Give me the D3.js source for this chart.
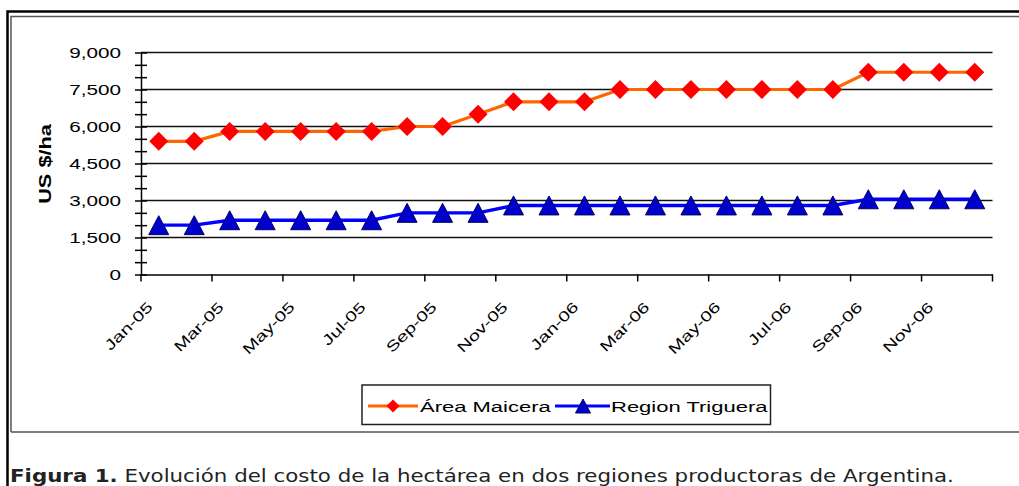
<!DOCTYPE html>
<html>
<head>
<meta charset="utf-8">
<script src="https://cdn.jsdelivr.net/npm/d3@7"></script>
<style>
  html, body { margin: 0; padding: 0; background: #fff; }
  svg { display: block; }
</style>
</head>
<body>
<script>
// Monthly cost per hectare (US $/ha), Jan-05 .. Dec-06
const months = ["Jan-05","Feb-05","Mar-05","Apr-05","May-05","Jun-05","Jul-05","Aug-05","Sep-05","Oct-05","Nov-05","Dec-05",
                "Jan-06","Feb-06","Mar-06","Apr-06","May-06","Jun-06","Jul-06","Aug-06","Sep-06","Oct-06","Nov-06","Dec-06"];
const areaMaicera = [5400,5400,5800,5800,5800,5800,5800,6000,6000,6500,7000,7000,
                     7000,7500,7500,7500,7500,7500,7500,7500,8200,8200,8200,8200];
const regionTriguera = [2000,2000,2200,2200,2200,2200,2200,2500,2500,2500,2800,2800,
                        2800,2800,2800,2800,2800,2800,2800,2800,3050,3050,3050,3050];
const yTicks = [0,1500,3000,4500,6000,7500,9000];
const seriesNames = ["Área Maicera","Region Triguera"];

const W = 1019, H = 486;
const SX = 1.38; // horizontal stretch of chart lettering
const svg = d3.select("body").append("svg").attr("width", W).attr("height", H);
svg.append("rect").attr("width", W).attr("height", H).attr("fill", "#fff");

// frame
svg.append("path").attr("d", `M7.5,${H} V11.5 H${W}`).attr("fill","none").attr("stroke","#000").attr("stroke-width",2.5);
svg.append("path").attr("d", `M11,432 V16.5 H${W} M11,432 H${W}`).attr("fill","none").attr("stroke","#555").attr("stroke-width",1.5);

const x = d3.scaleBand().domain(months).range([141, 992.5]).paddingInner(0).paddingOuter(0);
const y = d3.scaleLinear().domain([0, 9000]).range([274.5, 52.5]);
const cx = d => x(d) + x.bandwidth() / 2;

function stretched(g, txt, px, py, opts) {
  const t = g.append("text")
    .attr("transform", `translate(${px},${py}) rotate(${opts.rotate || 0}) scale(${opts.sx || SX},1)`)
    .attr("text-anchor", opts.anchor || "start")
    .attr("font-family", "Liberation Sans, Arial, sans-serif")
    .attr("font-size", opts.size || 15)
    .attr("font-weight", opts.weight || "normal")
    .attr("fill", "#000")
    .text(txt);
  if (opts.dy) t.attr("dy", opts.dy);
  return t;
}

// gridlines
svg.append("g").selectAll("line").data(yTicks.filter(v => v > 0)).join("line")
  .attr("x1", 141).attr("x2", 992.5)
  .attr("y1", d => y(d)).attr("y2", d => y(d))
  .attr("stroke", "#111").attr("stroke-width", 1.5);

// y axis with minor ticks every 500
const yAxis = d3.axisLeft(y).tickValues(d3.range(0, 9001, 500)).tickSize(0).tickFormat("");
const yg = svg.append("g").attr("transform", "translate(141,0)").call(yAxis);
yg.select(".domain").attr("stroke", "#000").attr("stroke-width", 1.5);
yg.selectAll(".tick line").attr("x1", -6).attr("x2", 6).attr("stroke", "#000").attr("stroke-width", 1.5);

const yl = svg.append("g");
yTicks.forEach(v => stretched(yl, d3.format(",")(v), 121, y(v), {anchor: "end", dy: "0.36em", size: 15}));

// x axis
const xAxis = d3.axisBottom(x).tickSize(0).tickFormat("");
const xg = svg.append("g").attr("transform", "translate(0,274.5)").call(xAxis);
xg.select(".domain").attr("stroke", "#000").attr("stroke-width", 1.5);
xg.selectAll(".tick").remove();
const tickPos = months.filter((m, i) => i % 2 === 0).map(m => x(m)).concat([x.range()[1]]);
xg.selectAll("line.tk").data(tickPos).join("line").attr("class", "tk")
  .attr("x1", d => d).attr("x2", d => d).attr("y1", 0).attr("y2", 7)
  .attr("stroke", "#000").attr("stroke-width", 1.5);

const xl = svg.append("g");
months.forEach((m, i) => {
  if (i % 2 === 0) stretched(xl, m, cx(m) - 5, 308, {anchor: "end", rotate: -45, size: 14.5});
});

// y-axis title
stretched(svg, "US $/ha", 51, 164, {anchor: "middle", rotate: -90, size: 16, weight: "bold", sx: 1.36});

// series
const diamond = s => `M0,${-s} L${s},0 L0,${s} L${-s},0 Z`;
const triangle = (w, t, b) => `M0,${-t} L${w},${b} L${-w},${b} Z`;

const line = d3.line().x((d, i) => cx(months[i])).y(d => y(d));

svg.append("path").datum(areaMaicera).attr("d", line)
  .attr("fill", "none").attr("stroke", "#FF6600").attr("stroke-width", 3.2);
svg.append("path").datum(regionTriguera).attr("d", line)
  .attr("fill", "none").attr("stroke", "#0000FF").attr("stroke-width", 3.4);

svg.append("g").selectAll("path").data(areaMaicera).join("path")
  .attr("transform", (d, i) => `translate(${cx(months[i])},${y(d)})`)
  .attr("d", diamond(9.5)).attr("fill", "#FF0000");
svg.append("g").selectAll("path").data(regionTriguera).join("path")
  .attr("transform", (d, i) => `translate(${cx(months[i])},${y(d)})`)
  .attr("d", triangle(10, 9.5, 9.5)).attr("fill", "#0000CC").attr("stroke", "#000066").attr("stroke-width", 1);

// legend
const lg = svg.append("g");
lg.append("rect").attr("x", 362).attr("y", 385).attr("width", 408.5).attr("height", 39.5)
  .attr("fill", "#fff").attr("stroke", "#222").attr("stroke-width", 1.5);
lg.append("line").attr("x1", 368).attr("x2", 418).attr("y1", 406).attr("y2", 406)
  .attr("stroke", "#FF6600").attr("stroke-width", 3);
lg.append("path").attr("transform", "translate(393,406)").attr("d", diamond(6.5)).attr("fill", "#FF0000");
stretched(lg, seriesNames[0], 420, 406, {dy: "0.36em", size: 15.5, sx: 1.42});
lg.append("line").attr("x1", 555).attr("x2", 610).attr("y1", 406).attr("y2", 406)
  .attr("stroke", "#0000FF").attr("stroke-width", 3);
lg.append("path").attr("transform", "translate(583,406)").attr("d", triangle(7.5, 7, 7))
  .attr("fill", "#0000CC").attr("stroke", "#000066").attr("stroke-width", 1);
stretched(lg, seriesNames[1], 611, 406, {dy: "0.36em", size: 15.5, sx: 1.42});

// caption
const cap = svg.append("text").attr("transform", "translate(10,482) scale(1.22,1)")
  .attr("font-family", "DejaVu Sans, Verdana, sans-serif").attr("font-size", 17.5).attr("fill", "#222");
cap.append("tspan").attr("font-weight", "bold").text("Figura 1.");
cap.append("tspan").text(" Evolución del costo de la hectárea en dos regiones productoras de Argentina.");
</script>
</body>
</html>
